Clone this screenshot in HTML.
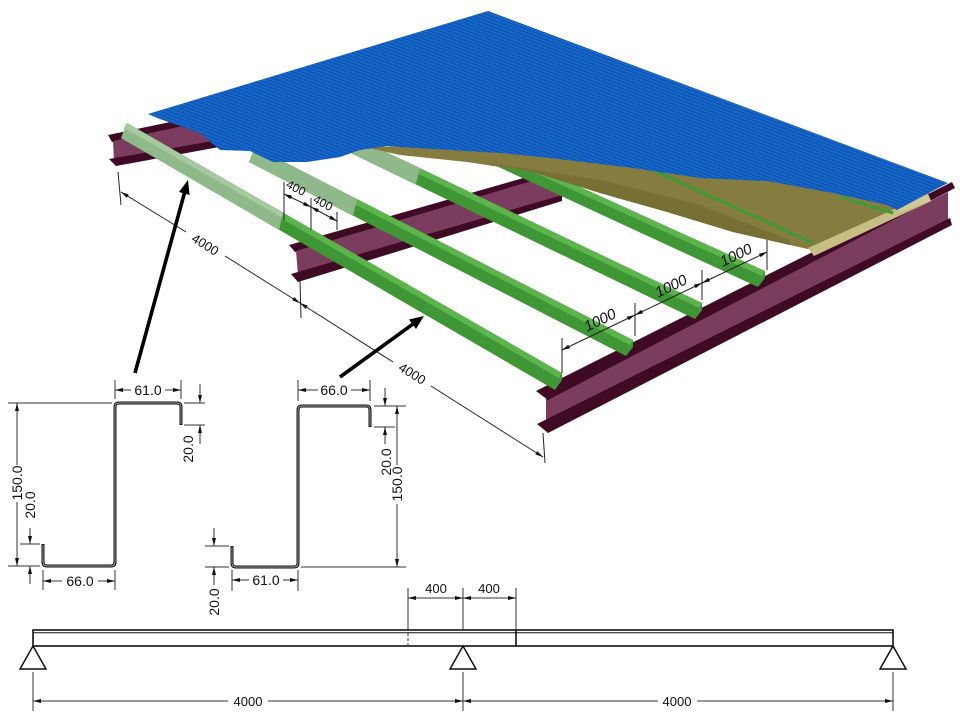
<!DOCTYPE html>
<html><head><meta charset="utf-8"><style>
html,body{margin:0;padding:0;background:#fff;}
svg{display:block;}
text{font-family:"Liberation Sans",Arial,sans-serif;fill:#111;}
</style></head><body>
<svg width="960" height="717" viewBox="0 0 960 717" xmlns="http://www.w3.org/2000/svg">
<defs>
<marker id="a" markerUnits="userSpaceOnUse" markerWidth="8" markerHeight="4" viewBox="0 0 8 4" refX="8" refY="2" orient="auto-start-reverse"><path d="M0,0L8,2L0,4z" fill="#111"/></marker>
<pattern id="corr" patternUnits="userSpaceOnUse" width="6" height="3.2" patternTransform="rotate(20.4)">
<rect width="6" height="3.2" fill="#1667cc"/><rect y="0" width="6" height="1.1" fill="#0d50aa"/>
</pattern>
</defs>
<rect width="960" height="717" fill="#fff"/>

<!-- back beam -->
<polygon points="108,135 300,95 300,102 112,142" fill="#3f0b24"/>
<polygon points="113,141 300,101 300,128 114,161" fill="#7b3d5d"/>
<polygon points="109,159 300,126 300,132 116,166" fill="#3f0b24"/>

<!-- middle beam -->
<polygon points="289,245 562,167 562,173 295,252" fill="#3f0b24"/>
<polygon points="296,251 562,172 562,197 298,275" fill="#7b3d5d"/>
<polygon points="291,274 562,195 562,201 298,282" fill="#3f0b24"/>

<!-- front beam -->
<polygon points="546,398 948,192 948,222 546,427" fill="#7b3d5d"/>
<polygon points="536,391 952,182 955,188 548,400" fill="#3f0b24"/>
<polygon points="537,424 950,218 952,225 548,433" fill="#3f0b24"/>

<!-- purlins -->
<!-- A -->
<polygon points="127,123 562,373 562,380 555,390 121,138" fill="#3f9634"/>
<polygon points="127,123 562,373 559,378 124,128" fill="#5cb44d"/>
<polygon points="127,123 283,213 279,230 121,138" fill="#8fb98a"/>
<polygon points="127,123 283,213 281,217 124,128" fill="#a6c9a0"/>
<!-- B -->
<polygon points="255,147 633,340 633,347 626,356 249,162" fill="#3f9634"/>
<polygon points="255,147 633,340 630,345 252,152" fill="#5cb44d"/>
<polygon points="255,147 357,199 353,216 249,162" fill="#8fb98a"/>
<!-- C -->
<polygon points="340,130 702,303 702,310 695,319 334,145" fill="#3f9634"/>
<polygon points="340,130 702,303 699,308 337,135" fill="#5cb44d"/>
<polygon points="340,130 420,168 416,184 334,145" fill="#8fb98a"/>
<!-- D -->
<polygon points="470,137 765,271 765,278 758,287 464,151" fill="#3f9634"/>
<polygon points="470,137 765,271 762,276 467,142" fill="#5cb44d"/>

<!-- insulation -->
<polygon points="360,146 600,150 930,191 926,199 812,250 790,245 733,232 667,212 600,193 533,172 467,162 400,155" fill="#857c3f"/>
<polygon points="470,160 600,180 700,205 790,240 790,245 733,232 667,212 600,193 533,172" fill="#767035"/>
<polygon points="808,248 928,194 931,201 814,256" fill="#c7be86"/>
<polygon points="895,205 928,194 931,201 900,212" fill="#d2c996"/>
<line x1="653" y1="170" x2="813" y2="243" stroke="#3f9a35" stroke-width="3"/>
<line x1="840" y1="197" x2="893" y2="213" stroke="#3f9a35" stroke-width="3"/>

<!-- roof -->
<polygon points="148,114 488,11 948,183 925,195 897,210 887,205 833,193 767,181 700,178 633,168 550,158 500,153 450,150 400,147 387,146 360,150 340,157 307,162 273,162 250,151 220,150 200,133 160,119" fill="url(#corr)"/>

<!-- 3D dimensions -->
<g stroke="#222" stroke-width="1" fill="none">
<line x1="118" y1="172" x2="121" y2="205"/>
<line x1="300" y1="280" x2="301" y2="318"/>
<line x1="543" y1="433" x2="545" y2="463"/>
<line x1="121" y1="192" x2="186" y2="232" marker-start="url(#a)"/>
<line x1="225" y1="256" x2="300" y2="303" marker-end="url(#a)"/>
<line x1="300" y1="303" x2="393" y2="362" marker-start="url(#a)"/>
<line x1="431" y1="386" x2="543" y2="457" marker-end="url(#a)"/>

<line x1="284" y1="182" x2="284" y2="220"/>
<line x1="311" y1="198" x2="311" y2="230"/>
<line x1="337" y1="212" x2="337" y2="230"/>
<line x1="284" y1="194" x2="311" y2="207" marker-start="url(#a)" marker-end="url(#a)"/>
<line x1="311" y1="207" x2="337" y2="221" marker-start="url(#a)" marker-end="url(#a)"/>

<line x1="562" y1="338" x2="562" y2="373"/>
<line x1="635" y1="303" x2="635" y2="336"/>
<line x1="702" y1="270" x2="702" y2="300"/>
<line x1="767" y1="240" x2="767" y2="270"/>
<line x1="562" y1="350" x2="635" y2="315" marker-start="url(#a)" marker-end="url(#a)"/>
<line x1="635" y1="315" x2="702" y2="283" marker-start="url(#a)" marker-end="url(#a)"/>
<line x1="702" y1="283" x2="767" y2="252" marker-start="url(#a)" marker-end="url(#a)"/>
</g>
<text x="205" y="249" font-size="13" text-anchor="middle" transform="rotate(32 205 245)">4000</text>
<text x="412" y="378" font-size="13" text-anchor="middle" transform="rotate(32 412 374)">4000</text>
<text x="296" y="192" font-size="12" text-anchor="middle" transform="rotate(28 296 188)">400</text>
<text x="323" y="207" font-size="12" text-anchor="middle" transform="rotate(28 323 203)">400</text>
<text x="600" y="325" font-size="15" font-style="italic" text-anchor="middle" transform="rotate(-25.5 600 320)">1000</text>
<text x="671" y="291" font-size="15" font-style="italic" text-anchor="middle" transform="rotate(-25.5 671 286)">1000</text>
<text x="736" y="260" font-size="15" font-style="italic" text-anchor="middle" transform="rotate(-25.5 736 255)">1000</text>

<!-- big arrows -->
<line x1="135" y1="373" x2="184.3" y2="193.5" stroke="#000" stroke-width="3.6"/>
<polygon points="188,180 189.6,195 179,192" fill="#000"/>
<line x1="340" y1="377" x2="412.7" y2="324.2" stroke="#000" stroke-width="3.6"/>
<polygon points="424,316 416,329 409,319.5" fill="#000"/>

<!-- Left Z section -->
<path d="M43,544 L43,562 Q43,566 47,566 L111,566 Q115,566 115,562 L115,407 Q115,403 119,403 L177,403 Q181,403 181,407 L181,425" fill="none" stroke="#111" stroke-width="3"/>
<path d="M43,545 L43,562 Q43,566 47,566 L111,566 Q115,566 115,562 L115,407 Q115,403 119,403 L177,403 Q181,403 181,407 L181,424" fill="none" stroke="#ccc" stroke-width="0.7"/>
<g stroke="#333" stroke-width="1" fill="none">
<line x1="115" y1="380" x2="115" y2="399"/>
<line x1="181" y1="380" x2="181" y2="399"/>
<line x1="115" y1="390" x2="131" y2="390" marker-start="url(#a)"/>
<line x1="165" y1="390" x2="181" y2="390" marker-end="url(#a)"/>
<line x1="184" y1="403" x2="205" y2="403"/>
<line x1="184" y1="425" x2="205" y2="425"/>
<line x1="200" y1="384" x2="200" y2="403" marker-end="url(#a)"/>
<line x1="200" y1="444" x2="200" y2="425" marker-end="url(#a)"/>
<line x1="8" y1="403" x2="112" y2="403"/>
<line x1="8" y1="566" x2="40" y2="566"/>
<line x1="17" y1="403" x2="17" y2="465" marker-start="url(#a)"/>
<line x1="17" y1="502" x2="17" y2="566" marker-end="url(#a)"/>
<line x1="20" y1="544" x2="40" y2="544"/>
<line x1="30" y1="528" x2="30" y2="544" marker-end="url(#a)"/>
<line x1="30" y1="584" x2="30" y2="566" marker-end="url(#a)"/>
<line x1="43" y1="570" x2="43" y2="590"/>
<line x1="115" y1="570" x2="115" y2="590"/>
<line x1="43" y1="581" x2="62" y2="581" marker-start="url(#a)"/>
<line x1="98" y1="581" x2="115" y2="581" marker-end="url(#a)"/>
</g>
<text x="148" y="395" font-size="14" text-anchor="middle">61.0</text>
<text x="188" y="454" font-size="14" text-anchor="middle" transform="rotate(-90 188 449)">20.0</text>
<text x="17" y="488" font-size="14" text-anchor="middle" transform="rotate(-90 17 483)">150.0</text>
<text x="30" y="510" font-size="14" text-anchor="middle" transform="rotate(-90 30 505)">20.0</text>
<text x="80" y="586" font-size="14" text-anchor="middle">66.0</text>

<!-- Middle Z section -->
<path d="M232,546 L232,563 Q232,567 236,567 L294,567 Q298,567 298,563 L298,410 Q298,406 302,406 L366,406 Q370,406 370,410 L370,427" fill="none" stroke="#111" stroke-width="3"/>
<path d="M232,547 L232,563 Q232,567 236,567 L294,567 Q298,567 298,563 L298,410 Q298,406 302,406 L366,406 Q370,406 370,410 L370,426" fill="none" stroke="#ccc" stroke-width="0.7"/>
<g stroke="#333" stroke-width="1" fill="none">
<line x1="298" y1="380" x2="298" y2="401"/>
<line x1="370" y1="380" x2="370" y2="401"/>
<line x1="298" y1="390" x2="318" y2="390" marker-start="url(#a)"/>
<line x1="351" y1="390" x2="370" y2="390" marker-end="url(#a)"/>
<line x1="374" y1="406" x2="406" y2="406"/>
<line x1="374" y1="427" x2="395" y2="427"/>
<line x1="385" y1="388" x2="385" y2="406" marker-end="url(#a)"/>
<line x1="385" y1="444" x2="385" y2="427" marker-end="url(#a)"/>
<line x1="301" y1="567" x2="406" y2="567"/>
<line x1="397" y1="406" x2="397" y2="465" marker-start="url(#a)"/>
<line x1="397" y1="504" x2="397" y2="567" marker-end="url(#a)"/>
<line x1="205" y1="546" x2="229" y2="546"/>
<line x1="205" y1="567" x2="229" y2="567"/>
<line x1="214" y1="528" x2="214" y2="546" marker-end="url(#a)"/>
<line x1="214" y1="585" x2="214" y2="567" marker-end="url(#a)"/>
<line x1="232" y1="570" x2="232" y2="591"/>
<line x1="298" y1="570" x2="298" y2="591"/>
<line x1="232" y1="580" x2="249" y2="580" marker-start="url(#a)"/>
<line x1="283" y1="580" x2="298" y2="580" marker-end="url(#a)"/>
</g>
<text x="334" y="395" font-size="14" text-anchor="middle">66.0</text>
<text x="386" y="467" font-size="14" text-anchor="middle" transform="rotate(-90 386 462)">20.0</text>
<text x="397" y="489" font-size="14" text-anchor="middle" transform="rotate(-90 397 484)">150.0</text>
<text x="214" y="607" font-size="14" text-anchor="middle" transform="rotate(-90 214 602)">20.0</text>
<text x="266" y="585" font-size="14" text-anchor="middle">61.0</text>

<!-- Bottom beam -->
<rect x="33" y="630" width="860" height="16" fill="none" stroke="#111" stroke-width="1.6"/>
<line x1="33" y1="632.8" x2="893" y2="632.8" stroke="#111" stroke-width="1"/>
<line x1="408" y1="633" x2="408" y2="646" stroke="#2233aa" stroke-width="1" stroke-dasharray="3,2"/>
<line x1="516" y1="630" x2="516" y2="646" stroke="#111" stroke-width="1.6"/>
<g fill="#fff" stroke="#111" stroke-width="1.5">
<polygon points="33,646 20,669 46,669"/>
<polygon points="463,646 450,669 476,669"/>
<polygon points="893,646 880,669 906,669"/>
</g>
<g stroke="#333" stroke-width="1" fill="none">
<line x1="408" y1="588" x2="408" y2="630"/>
<line x1="463" y1="588" x2="463" y2="630"/>
<line x1="516" y1="588" x2="516" y2="630"/>
<line x1="408" y1="598" x2="463" y2="598" marker-start="url(#a)" marker-end="url(#a)"/>
<line x1="463" y1="598" x2="516" y2="598" marker-start="url(#a)" marker-end="url(#a)"/>
<line x1="33" y1="672" x2="33" y2="711"/>
<line x1="463" y1="672" x2="463" y2="711"/>
<line x1="893" y1="672" x2="893" y2="711"/>
<line x1="33" y1="701" x2="228" y2="701" marker-start="url(#a)"/>
<line x1="268" y1="701" x2="463" y2="701" marker-end="url(#a)"/>
<line x1="463" y1="701" x2="658" y2="701" marker-start="url(#a)"/>
<line x1="697" y1="701" x2="893" y2="701" marker-end="url(#a)"/>
</g>
<text x="436" y="593" font-size="13" text-anchor="middle">400</text>
<text x="489" y="593" font-size="13" text-anchor="middle">400</text>
<text x="248" y="706" font-size="13" text-anchor="middle">4000</text>
<text x="677" y="706" font-size="13" text-anchor="middle">4000</text>
</svg>
</body></html>
